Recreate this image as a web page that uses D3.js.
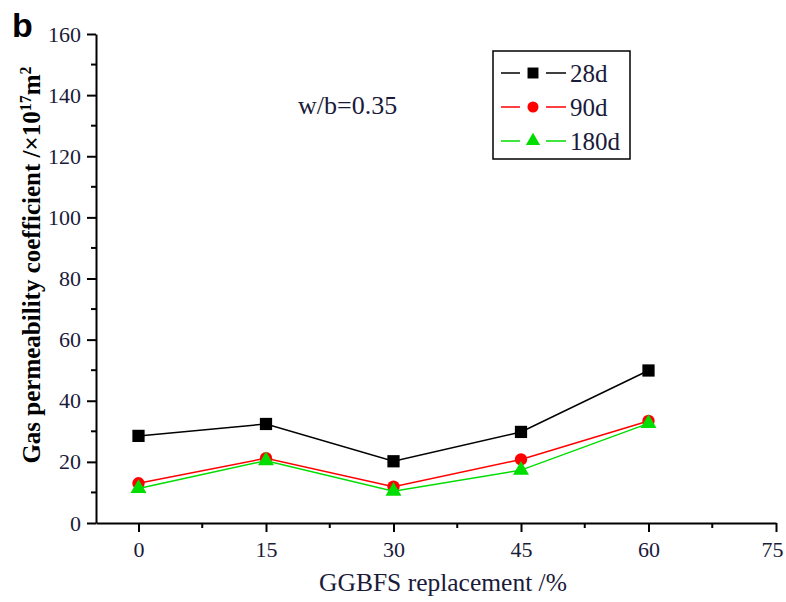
<!DOCTYPE html>
<html>
<head>
<meta charset="utf-8">
<script src="https://cdn.jsdelivr.net/npm/d3@7"></script>
<style>
  body { margin: 0; background: #fff; }
</style>
</head>
<body>
<svg id="chart" width="786" height="602"></svg>
<script>
var replacement = [0, 15, 30, 45, 60];
var d28 = [28.5, 32.4, 20.2, 29.8, 49.9];
var d90 = [13.0, 21.2, 11.9, 20.8, 33.4];
var d180 = [11.3, 20.4, 10.4, 17.3, 32.6];
var seriesNames = ["28d", "90d", "180d"];
var xTicks = [0, 15, 30, 45, 60, 75];
var yTicks = [0, 20, 40, 60, 80, 100, 120, 140, 160];

var serif = "Liberation Serif, Times New Roman, serif";
var svg = d3.select("#chart").style("font-family", serif);

var x = d3.scaleLinear().domain([-5, 75]).range([96, 776]);
var y = d3.scaleLinear().domain([0, 160]).range([523, 34]);

var series = [
  { name: seriesNames[0], values: d28, color: "#000", shape: d3.symbolSquare, size: 150 },
  { name: seriesNames[1], values: d90, color: "#ff0000", shape: d3.symbolCircle, size: 120 },
  { name: seriesNames[2], values: d180, color: "#00dd00", shape: d3.symbolTriangle, size: 110 }
];

// axes
var xAxis = svg.append("g")
  .attr("transform", "translate(0," + y(0) + ")")
  .call(d3.axisBottom(x).tickValues(xTicks).tickSize(9).tickSizeOuter(0).tickPadding(9));
var yAxis = svg.append("g")
  .attr("transform", "translate(" + x(-5) + ",0)")
  .call(d3.axisLeft(y).tickValues(yTicks).tickSize(9).tickSizeOuter(0).tickPadding(6));

// minor ticks
svg.append("g").selectAll("line")
  .data(d3.range(7.5, 75, 15))
  .enter().append("line")
    .attr("x1", function (d) { return x(d); })
    .attr("x2", function (d) { return x(d); })
    .attr("y1", y(0)).attr("y2", y(0) + 5)
    .attr("stroke", "#000").attr("stroke-width", 2);
svg.append("g").selectAll("line")
  .data(d3.range(10, 160, 20))
  .enter().append("line")
    .attr("x1", x(-5) - 5).attr("x2", x(-5))
    .attr("y1", function (d) { return y(d); })
    .attr("y2", function (d) { return y(d); })
    .attr("stroke", "#000").attr("stroke-width", 2);

[xAxis, yAxis].forEach(function (g) {
  g.selectAll("path, line").attr("stroke", "#000").attr("stroke-width", 2);
  g.selectAll("text")
    .attr("font-family", serif)
    .attr("font-size", 22)
    .attr("fill", "#1a1a3a");
});
// keep the last x label inside the frame
xAxis.selectAll("text").filter(function (d) { return d === 75; }).attr("dx", -4);

// lines and markers
var line = d3.line()
  .x(function (d, i) { return x(replacement[i]); })
  .y(function (d) { return y(d); });

series.forEach(function (s) {
  svg.append("path")
    .datum(s.values)
    .attr("d", line)
    .attr("fill", "none")
    .attr("stroke", s.color)
    .attr("stroke-width", 1.5);
  svg.append("g").selectAll("path")
    .data(s.values)
    .enter().append("path")
      .attr("d", d3.symbol().type(s.shape).size(s.size))
      .attr("transform", function (d, i) { return "translate(" + x(replacement[i]) + "," + y(d) + ")"; })
      .attr("fill", s.color);
});

// legend
var legend = svg.append("g").attr("transform", "translate(493,51)");
legend.append("rect")
  .attr("width", 137).attr("height", 108)
  .attr("fill", "#fff").attr("stroke", "#000").attr("stroke-width", 1.5);
series.forEach(function (s, i) {
  var row = legend.append("g").attr("transform", "translate(0," + (22 + i * 34) + ")");
  row.append("line").attr("x1", 8).attr("x2", 73).attr("y1", 0).attr("y2", 0)
    .attr("stroke", s.color).attr("stroke-width", 1.5);
  row.append("rect").attr("x", 27).attr("y", -8).attr("width", 26).attr("height", 16).attr("fill", "#fff");
  row.append("path")
    .attr("d", d3.symbol().type(s.shape).size(s.size * 0.8))
    .attr("transform", "translate(40,0)")
    .attr("fill", s.color);
  row.append("text").attr("x", 77).attr("y", 9)
    .attr("font-size", 25).attr("fill", "#1a1a3a").text(s.name);
});

// annotation
svg.append("text").attr("x", 298).attr("y", 114)
  .attr("font-size", 26).attr("fill", "#1a1a3a").text("w/b=0.35");

// axis titles
svg.append("text").attr("x", 443).attr("y", 591)
  .attr("text-anchor", "middle").attr("font-size", 25.5).attr("fill", "#1a1a3a")
  .text("GGBFS replacement /%");

var yl = svg.append("text")
  .attr("transform", "translate(40,265) rotate(-90)")
  .attr("text-anchor", "middle").attr("font-size", 25).attr("font-weight", "bold").attr("fill", "#000");
yl.append("tspan").text("Gas permeability coefficient  /\u00d710");
yl.append("tspan").attr("dy", -9).attr("font-size", 16).text("17");
yl.append("tspan").attr("dy", 9).text("m");
yl.append("tspan").attr("dy", -9).attr("font-size", 16).text("2");

// panel letter
svg.append("text").attr("x", 12).attr("y", 37)
  .attr("font-family", "Liberation Sans, Arial, sans-serif")
  .attr("font-size", 34).attr("font-weight", "bold").attr("fill", "#000").text("b");
</script>
</body>
</html>
